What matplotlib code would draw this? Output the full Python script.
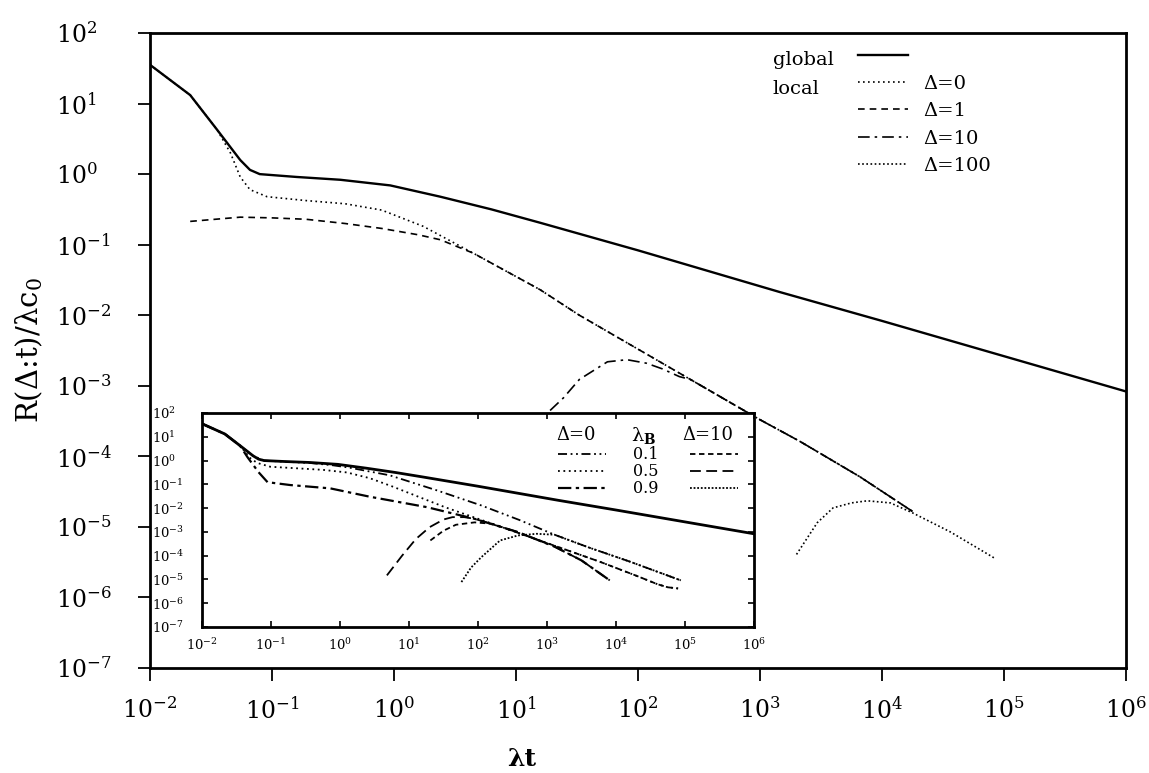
import numpy as np
import matplotlib.pyplot as plt
from matplotlib.ticker import NullLocator

plt.rcParams['font.family'] = ['DejaVu Serif']
plt.rcParams['mathtext.fontset'] = 'dejavuserif'

# values, as log10(lambda t) and log10(R/lambda c0)
glob_lx = [-2, -1.67, -1.45, -1.26, -1.18, -1.1, -0.8, -0.44, -0.03, 0.38, 0.8, 1.2, 2.0, 3.16, 4.0, 5.0, 6.0]
glob_ly = [1.55, 1.12, 0.63, 0.2, 0.06, 0.0, -0.04, -0.08, -0.16, -0.32, -0.5, -0.69, -1.08, -1.67, -2.08, -2.58, -3.08]

# common late-time tail of the local curves
tail_lx = [0.65, 1.2, 1.52, 2.0, 2.43, 3.0, 3.33, 3.82, 4.25]
tail_ly = [-1.12, -1.64, -2.0, -2.48, -2.91, -3.48, -3.79, -4.29, -4.78]

d0_lx = [-2, -1.67, -1.45, -1.34, -1.26, -1.18, -1.04, -0.72, -0.4, -0.1, 0.24]
d0_ly = [1.55, 1.12, 0.63, 0.3, -0.04, -0.22, -0.32, -0.375, -0.42, -0.51, -0.74]

d1_lx = [-1.67, -1.26, -1.0, -0.72, -0.4, -0.1, 0.2, 0.38]
d1_ly = [-0.67, -0.61, -0.62, -0.64, -0.7, -0.77, -0.86, -0.93]

d10_lx = [1.28, 1.39, 1.52, 1.75, 1.91, 2.07, 2.2, 2.34]
d10_ly = [-3.35, -3.17, -2.91, -2.66, -2.63, -2.68, -2.76, -2.87]

d100_lx = [3.30, 3.47, 3.60, 3.75, 3.88, 4.07, 4.25, 4.56, 4.93]
d100_ly = [-5.39, -4.94, -4.73, -4.66, -4.63, -4.66, -4.80, -5.07, -5.45]

# inset: lambda_B = 0.1, 0.5, 0.9 for Delta = 0 and Delta = 10
a01_lx = [-2, -1.67, -1.45, -1.26, -1.1, -0.8, -0.44, -0.1, 0.14, 0.72, 1.4, 2.05, 2.6, 3.11, 3.6, 4.2, 4.94]
a01_ly = [1.55, 1.12, 0.63, 0.2, 0.0, -0.05, -0.1, -0.2, -0.3, -0.62, -1.25, -1.89, -2.5, -3.12, -3.65, -4.25, -5.04]
a05_lx = [-2, -1.67, -1.45, -1.3, -1.2, -1.01, -0.6, -0.25, 0.1, 0.43, 0.75, 1.52, 2.21, 3.0, 3.77, 4.3, 4.6, 4.75, 4.9]
a05_ly = [1.55, 1.12, 0.63, 0.1, -0.1, -0.26, -0.33, -0.39, -0.5, -0.74, -1.08, -1.96, -2.66, -3.47, -4.26, -4.85, -5.2, -5.33, -5.38]
a09_lx = [-2, -1.67, -1.45, -1.34, -1.18, -1.05, -0.72, -0.14, 0.43, 1.26, 1.95, 2.58, 3.11, 3.5, 3.91]
a09_ly = [1.55, 1.12, 0.63, 0.14, -0.49, -0.91, -1.03, -1.17, -1.52, -1.96, -2.45, -3.01, -3.62, -4.2, -5.04]

b01_lx = [1.31, 1.5, 1.68, 1.95, 2.21, 3.0, 3.77, 4.3, 4.6, 4.75, 4.9]
b01_ly = [-3.36, -2.95, -2.7, -2.6, -2.66, -3.47, -4.26, -4.85, -5.2, -5.33, -5.38]
b05_lx = [0.68, 0.9, 1.1, 1.3, 1.5, 1.63, 1.8, 1.95, 2.58, 3.11, 3.5, 3.91]
b05_ly = [-4.83, -4.0, -3.3, -2.8, -2.48, -2.38, -2.38, -2.45, -3.01, -3.62, -4.2, -5.04]
b09_lx = [1.76, 1.9, 2.05, 2.32, 2.58, 2.85, 3.11, 3.6, 4.2, 4.94]
b09_ly = [-5.11, -4.5, -4.06, -3.36, -3.15, -3.08, -3.12, -3.65, -4.25, -5.04]

lam_b = ['0.1', '0.5', '0.9']


def p(lx, ly):
    return 10.0 ** np.array(lx), 10.0 ** np.array(ly)


fig = plt.figure(figsize=(11.49, 7.73), dpi=100)
ax = fig.add_axes([0.1305, 0.1358, 0.8494, 0.8215])

h_glob, = ax.plot(*p(glob_lx, glob_ly), color='black', lw=1.7)
h0, = ax.plot(*p(d0_lx + tail_lx, d0_ly + tail_ly), color='black', lw=1.2, ls=(0, (1, 2)))
h1, = ax.plot(*p(d1_lx + tail_lx, d1_ly + tail_ly), color='black', lw=1.2, ls=(0, (4, 3)))
h10, = ax.plot(*p(d10_lx + tail_lx[4:], d10_ly + tail_ly[4:]), color='black', lw=1.2, ls=(0, (7, 3, 1.5, 3)))
h100, = ax.plot(*p(d100_lx, d100_ly), color='black', lw=1.2, ls=(0, (1, 1.5)))

ax.set_xscale('log')
ax.set_yscale('log')
ax.set_xlim(1e-2, 1e6)
ax.set_ylim(1e-7, 1e2)
ax.set_xticks([10.0 ** k for k in range(-2, 7)])
ax.set_yticks([10.0 ** k for k in range(-7, 3)])
ax.xaxis.set_minor_locator(NullLocator())
ax.yaxis.set_minor_locator(NullLocator())
ax.tick_params(direction='out', length=9, width=1.3, labelsize=17)
ax.tick_params(axis='x', pad=12)
ax.tick_params(axis='y', pad=59)
for lbl in ax.get_yticklabels():
    lbl.set_horizontalalignment('left')
for s in ax.spines.values():
    s.set_linewidth(2)

ax.set_xlabel('λt', fontsize=18, fontweight='bold')
ax.xaxis.set_label_coords(0.381, -0.125)
ax.set_ylabel('R(Δ:t)/λc$_0$', fontsize=21)
ax.yaxis.set_label_coords(-0.108, 0.5)

ax.legend([h_glob, h0, h1, h10, h100], ['', 'Δ=0', 'Δ=1', 'Δ=10', 'Δ=100'],
          loc='upper left', bbox_to_anchor=(0.725, 0.977), frameon=False,
          fontsize=14, handlelength=2.6, handletextpad=0.8, labelspacing=0.48,
          borderpad=0, borderaxespad=0)
ax.text(0.638, 0.957, 'global', transform=ax.transAxes, fontsize=14, va='center')
ax.text(0.638, 0.912, 'local', transform=ax.transAxes, fontsize=14, va='center')

# inset
axi = fig.add_axes([0.1758, 0.1889, 0.4804, 0.2768])
axi.plot(*p(glob_lx, glob_ly), color='black', lw=2)
ha = [axi.plot(*p(a01_lx, a01_ly), color='black', lw=1.3, ls=(0, (5, 2, 1, 2, 1, 2)))[0],
      axi.plot(*p(a05_lx, a05_ly), color='black', lw=1.3, ls=(0, (1, 2)))[0],
      axi.plot(*p(a09_lx, a09_ly), color='black', lw=1.6, ls=(0, (6, 2, 1.5, 2)))[0]]
hb = [axi.plot(*p(b01_lx, b01_ly), color='black', lw=1.3, ls=(0, (3, 2)))[0],
      axi.plot(*p(b05_lx, b05_ly), color='black', lw=1.3, ls=(0, (6, 3)))[0],
      axi.plot(*p(b09_lx, b09_ly), color='black', lw=1.3, ls=(0, (1, 1)))[0]]

axi.set_xscale('log')
axi.set_yscale('log')
axi.set_xlim(1e-2, 1e6)
axi.set_ylim(1e-7, 1e2)
axi.set_xticks([10.0 ** k for k in range(-2, 7)])
axi.set_yticks([10.0 ** k for k in range(-7, 3)])
axi.xaxis.set_minor_locator(NullLocator())
axi.yaxis.set_minor_locator(NullLocator())
axi.tick_params(direction='in', length=4, width=1.2, labelsize=9.5, top=True, right=True)
axi.tick_params(axis='x', pad=7)
axi.tick_params(axis='y', pad=36)
for lbl in axi.get_yticklabels():
    lbl.set_horizontalalignment('left')
for s in axi.spines.values():
    s.set_linewidth(2)

leg_a = axi.legend(ha, lam_b, loc='upper left', bbox_to_anchor=(0.645, 0.845), frameon=False,
                   fontsize=11.5, handlelength=3.0, handletextpad=1.7, labelspacing=0.0,
                   borderpad=0, borderaxespad=0)
axi.add_artist(leg_a)
axi.legend(hb, ['', '', ''], loc='upper left', bbox_to_anchor=(0.885, 0.845), frameon=False,
           fontsize=11.5, handlelength=3.0, handletextpad=0, labelspacing=0.0,
           borderpad=0, borderaxespad=0)
axi.text(0.678, 0.895, 'Δ=0', transform=axi.transAxes, fontsize=13, ha='center', va='center')
axi.text(0.80, 0.895, 'λ$_\\mathbf{B}$', transform=axi.transAxes, fontsize=14, ha='center', va='center')
axi.text(0.917, 0.895, 'Δ=10', transform=axi.transAxes, fontsize=13, ha='center', va='center')

fig.savefig('out.png', dpi=100)
